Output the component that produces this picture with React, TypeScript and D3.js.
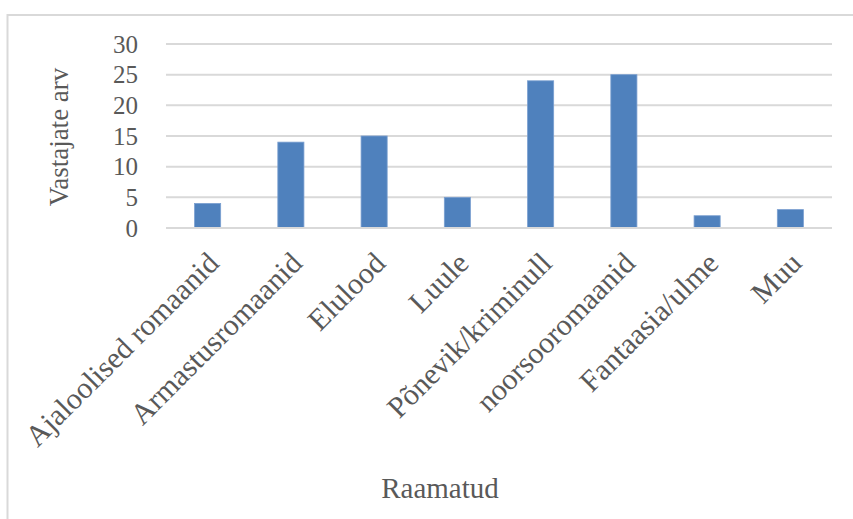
import React, { useEffect, useRef } from 'react';
import * as d3 from 'd3';

const categories: string[] = [
  'Ajaloolised romaanid',
  'Armastusromaanid',
  'Elulood',
  'Luule',
  'Põnevik/kriminull',
  'noorsooromaanid',
  'Fantaasia/ulme',
  'Muu',
];
const counts: number[] = [4, 14, 15, 5, 24, 25, 2, 3];
const yTicks: number[] = [0, 5, 10, 15, 20, 25, 30];

const App: React.FC = () => {
  const svgRef = useRef<SVGSVGElement>(null);

  useEffect(() => {
    if (!svgRef.current) return;
    const svg = d3.select(svgRef.current);
    svg.selectAll('*').remove();

    const width = 853;
    const height = 519;
    const font = '"Liberation Serif", "Times New Roman", serif';
    const textColor = '#595959';
    const gridColor = '#d9d9d9';

    // chart frame, runs off the right and bottom edges
    svg.append('rect')
      .attr('x', 7.5)
      .attr('y', 15)
      .attr('width', 1000)
      .attr('height', 1000)
      .attr('fill', '#fff')
      .attr('stroke', gridColor)
      .attr('stroke-width', 2);

    const x = d3.scaleBand<string>()
      .domain(categories)
      .range([166, 832])
      .paddingInner(0)
      .paddingOuter(0);

    const y = d3.scaleLinear()
      .domain([0, 30])
      .range([228, 44]);

    const barWidth = x.bandwidth() / 3.19;

    // gridlines
    svg.append('g')
      .selectAll('line')
      .data(yTicks)
      .enter()
      .append('line')
      .attr('x1', 166)
      .attr('x2', 832)
      .attr('y1', d => y(d))
      .attr('y2', d => y(d))
      .attr('stroke', gridColor)
      .attr('stroke-width', 2);

    // y tick labels
    svg.append('g')
      .selectAll('text')
      .data(yTicks)
      .enter()
      .append('text')
      .attr('x', 138)
      .attr('y', d => y(d))
      .attr('dy', '0.34em')
      .attr('text-anchor', 'end')
      .attr('fill', textColor)
      .style('font-family', font)
      .style('font-size', '25px')
      .text(d => d);

    // bars
    svg.append('g')
      .selectAll('rect')
      .data(counts)
      .enter()
      .append('rect')
      .attr('x', (d, i) => (x(categories[i]) || 0) + (x.bandwidth() - barWidth) / 2)
      .attr('y', d => y(d))
      .attr('width', barWidth)
      .attr('height', d => y(0) - y(d))
      .attr('fill', '#4f81bd')
      .attr('stroke', '#7a9fd0')
      .attr('stroke-width', 0.8);

    // baseline
    svg.append('line')
      .attr('x1', 166)
      .attr('x2', 832)
      .attr('y1', y(0))
      .attr('y2', y(0))
      .attr('stroke', gridColor)
      .attr('stroke-width', 2);

    // category labels
    svg.append('g')
      .selectAll('text')
      .data(categories)
      .enter()
      .append('text')
      .attr('transform', d => {
        const cx = (x(d) || 0) + x.bandwidth() / 2;
        return `translate(${cx + 13},${265}) rotate(-45)`;
      })
      .attr('text-anchor', 'end')
      .attr('fill', textColor)
      .style('font-family', font)
      .style('font-size', '30px')
      .text(d => d);

    // axis titles
    svg.append('text')
      .attr('transform', 'translate(59,137) rotate(-90)')
      .attr('dy', '0.35em')
      .attr('text-anchor', 'middle')
      .attr('fill', textColor)
      .style('font-family', font)
      .style('font-size', '27px')
      .text('Vastajate arv');

    svg.append('text')
      .attr('x', 440)
      .attr('y', 498)
      .attr('text-anchor', 'middle')
      .attr('fill', textColor)
      .style('font-family', font)
      .style('font-size', '29px')
      .text('Raamatud');

    svg.attr('width', width).attr('height', height);
  }, []);

  return (
    <svg
      ref={svgRef}
      width={853}
      height={519}
      style={{ position: 'absolute', left: 0, top: 0, overflow: 'hidden', background: '#fff' }}
    />
  );
};

export default App;
